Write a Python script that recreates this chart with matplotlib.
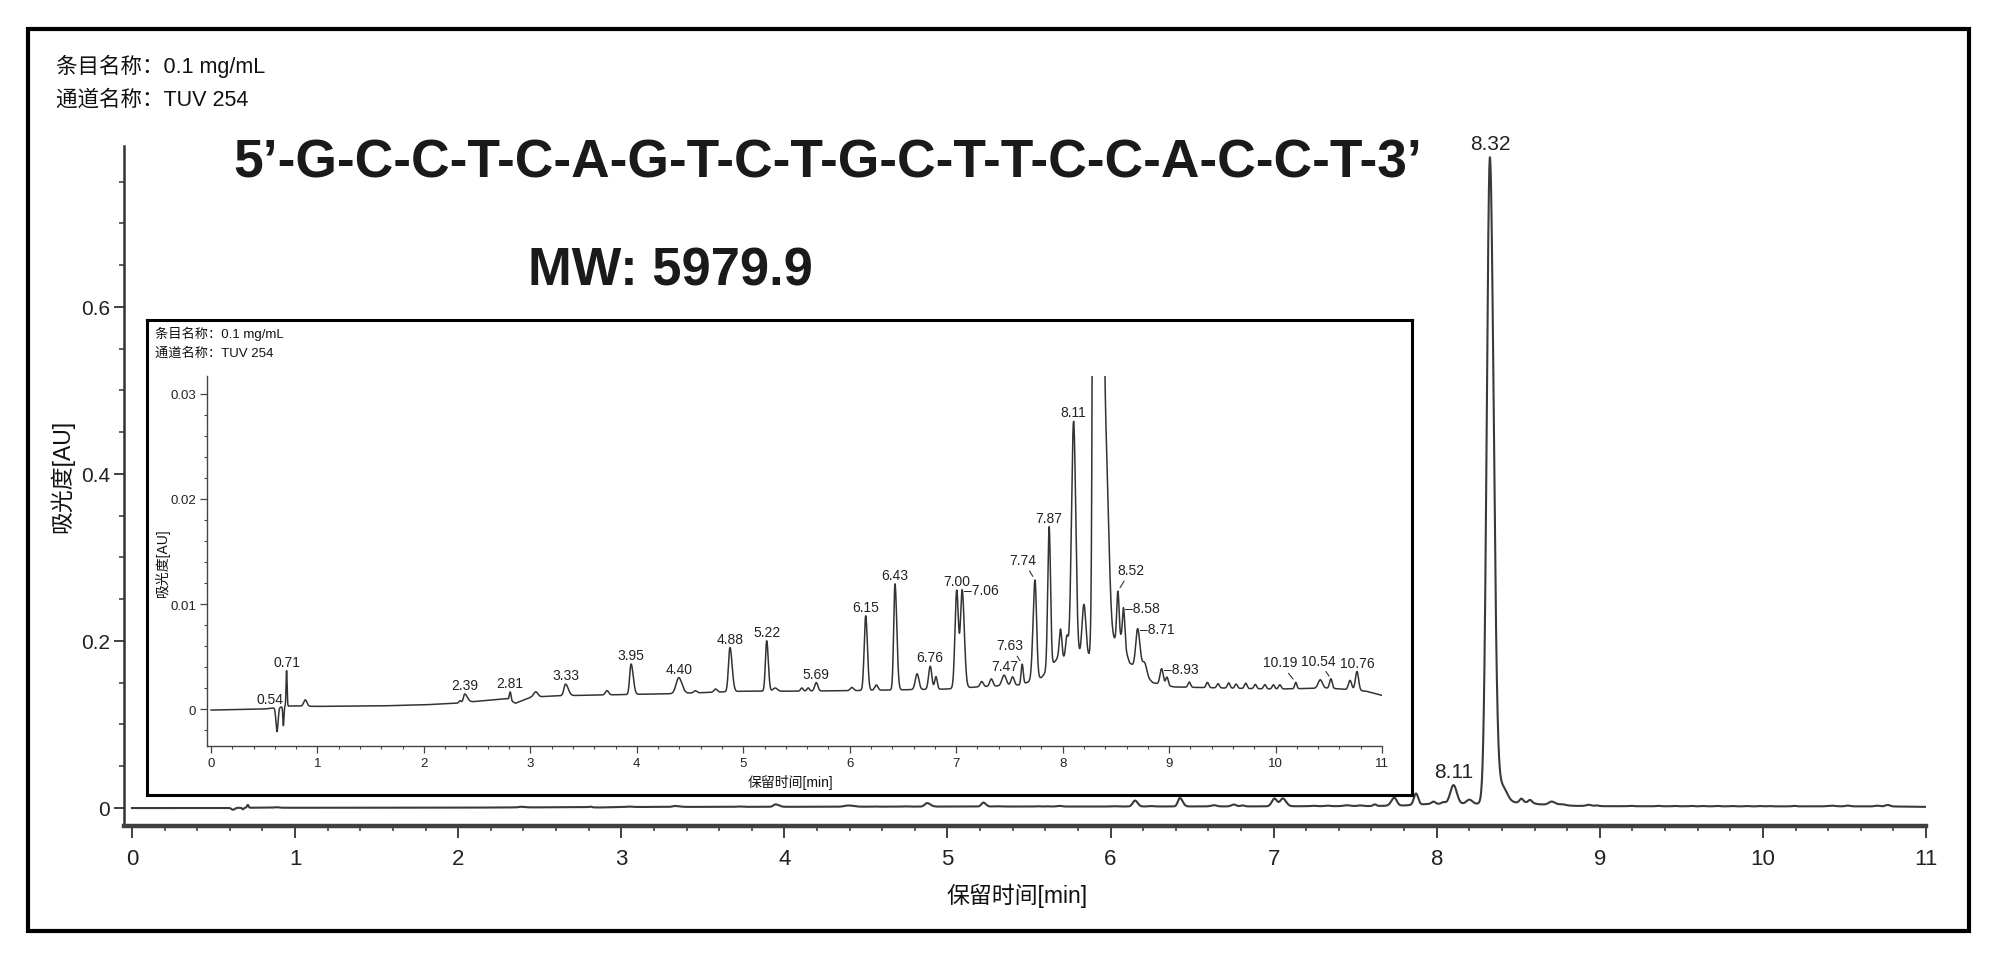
import numpy as np
import matplotlib
matplotlib.use("Agg")
import matplotlib.pyplot as plt
from matplotlib.patches import Rectangle
from matplotlib.ticker import MultipleLocator

plt.rcParams['font.family'] = ['Liberation Sans', 'Noto Sans CJK SC', 'DejaVu Sans']

# peak table
# retention time [min], height above baseline [AU], width left / right [min]
peak_rt = [0.62, 0.68, 0.71, 0.886, 2.34, 2.383, 2.811, 3.05, 3.33, 3.72,
           3.946, 4.394, 4.55, 4.74, 4.875, 5.22, 5.30, 5.55, 5.61, 5.686,
           6.02, 6.15, 6.25, 6.425, 6.633, 6.756, 6.81, 7.005, 7.056, 7.24,
           7.33, 7.45, 7.53, 7.62, 7.74, 7.873, 7.98, 8.04, 8.103, 8.20,
           8.326, 8.40, 8.519, 8.572, 8.705, 8.77, 8.93, 8.98, 9.19, 9.36,
           9.46, 9.56, 9.63, 9.72, 9.81, 9.90, 9.98, 10.04, 10.19, 10.42,
           10.52, 10.70, 10.765]
peak_h = [-0.0023, -0.0018, 0.0034, 0.0006, 0.0002, 0.0008, 0.0008, 0.0005, 0.0011, 0.0004,
          0.0029, 0.0015, 0.0002, 0.0003, 0.0042, 0.0048, 0.0003, 0.0003, 0.0003, 0.0008,
          0.0003, 0.0071, 0.0005, 0.0101, 0.0015, 0.0022, 0.0012, 0.0093, 0.0093, 0.0005,
          0.0007, 0.0010, 0.0008, 0.0019, 0.0095, 0.0135, 0.0028, 0.0020, 0.0225, 0.0050,
          0.773, 0.020, 0.0046, 0.0035, 0.0039, 0.0012, 0.0015, 0.0008, 0.0005, 0.0005,
          0.0004, 0.0005, 0.0004, 0.0005, 0.0004, 0.0004, 0.0004, 0.0004, 0.0006, 0.0008,
          0.0009, 0.0009, 0.0018]
peak_wl = [0.010, 0.005, 0.005, 0.015, 0.010, 0.012, 0.008, 0.020, 0.015, 0.015,
           0.013, 0.025, 0.015, 0.015, 0.014, 0.012, 0.020, 0.012, 0.012, 0.015,
           0.015, 0.014, 0.015, 0.012, 0.017, 0.015, 0.012, 0.016, 0.016, 0.015,
           0.015, 0.020, 0.015, 0.010, 0.018, 0.013, 0.012, 0.012, 0.020, 0.018,
           0.019, 0.030, 0.011, 0.010, 0.018, 0.020, 0.015, 0.012, 0.012, 0.012,
           0.012, 0.012, 0.012, 0.012, 0.012, 0.012, 0.012, 0.012, 0.010, 0.020,
           0.012, 0.015, 0.015]
peak_wr = [0.010, 0.005, 0.005, 0.015, 0.010, 0.025, 0.008, 0.020, 0.025, 0.015,
           0.020, 0.030, 0.015, 0.015, 0.020, 0.015, 0.020, 0.012, 0.012, 0.015,
           0.015, 0.016, 0.015, 0.017, 0.017, 0.015, 0.012, 0.016, 0.020, 0.015,
           0.015, 0.020, 0.015, 0.010, 0.015, 0.013, 0.012, 0.012, 0.020, 0.018,
           0.023, 0.030, 0.011, 0.012, 0.022, 0.020, 0.015, 0.012, 0.012, 0.012,
           0.012, 0.012, 0.012, 0.012, 0.012, 0.012, 0.012, 0.012, 0.010, 0.020,
           0.012, 0.015, 0.015]

# baseline drift under the peaks
base_t = [0.0, 0.5, 0.75, 1.0, 1.6, 2.0, 2.3, 2.78, 2.86, 3.0, 3.2, 4.0, 4.3, 5.0,
          5.5, 6.0, 6.9, 7.2, 7.6, 7.8, 7.95, 8.25, 8.45, 8.55, 8.63, 8.85, 9.05,
          10.0, 10.5, 10.85, 11.0]
base_v = [-0.0001, 0.0, 0.0003, 0.00025, 0.0003, 0.0004, 0.00055, 0.0010, 0.00055,
          0.0011, 0.00125, 0.0014, 0.00145, 0.0017, 0.0017, 0.00175, 0.0019, 0.0021,
          0.0023, 0.0030, 0.0048, 0.0050, 0.0062, 0.0068, 0.0044, 0.0025, 0.0021,
          0.0019, 0.0020, 0.0017, 0.0013]

main_ticks = [0, 0.2, 0.4, 0.6]
main_ticklabels = ["0", "0.2", "0.4", "0.6"]
inset_ticks = [0, 0.01, 0.02, 0.03]
inset_ticklabels = ["0", "0.01", "0.02", "0.03"]
x_ticks = list(range(12))

main_labels = ["8.11", "8.32"]
inset_labels = ["0.54", "0.71", "2.39", "2.81", "3.33", "3.95", "4.40", "4.88",
                "5.22", "5.69", "6.15", "6.43", "6.76", "7.00", "7.06", "7.47",
                "7.63", "7.74", "7.87", "8.11", "8.52", "8.58", "8.71", "8.93",
                "10.19", "10.54", "10.76"]
# labels drawn with a dash to the right of the peak
dash_labels = ["7.06", "8.58", "8.71", "8.93"]
# labels set off the peak with a short leader line (offset in pixels)
leader_labels = {"7.63": (-12, 19), "7.74": (-12, 20), "8.52": (13, 21),
                 "10.19": (-16, 20), "10.54": (-13, 19)}

header1 = "条目名称：0.1 mg/mL"
header2 = "通道名称：TUV 254"
sequence = "5’-G-C-C-T-C-A-G-T-C-T-G-C-T-T-C-C-A-C-C-T-3’"
mw_text = "MW: 5979.9"

# build the trace from the peak table
t = np.linspace(0, 11, 8801)
signal = np.interp(t, base_t, base_v)
for rt, h, wl, wr in zip(peak_rt, peak_h, peak_wl, peak_wr):
    w = np.where(t < rt, wl, wr)
    signal = signal + h * np.exp(-0.5 * ((t - rt) / w) ** 2)


def apex(x, half=0.015):
    # top of the trace close to a labelled retention time
    m = (t >= x - half) & (t <= x + half)
    i = np.argmax(signal[m])
    return t[m][i], signal[m][i]


fig = plt.figure(figsize=(20, 9.62), dpi=100)
W, H = 2000, 962


def fbox(x0, y0, x1, y1):
    # pixel box (top-left origin) -> figure fraction rect
    return [x0 / W, 1 - y1 / H, (x1 - x0) / W, (y1 - y0) / H]


# outer frame
fig.patches.append(Rectangle((28 / W, 1 - 932 / H), (1969 - 28) / W, (932 - 30) / H,
                             transform=fig.transFigure, fill=False, lw=3, ec='black'))

fig.text(56 / W, 1 - 73 / H, header1, fontsize=15.5, color='#111')
fig.text(56 / W, 1 - 106 / H, header2, fontsize=15.5, color='#111')
fig.text(233 / W, 1 - 177 / H, sequence, fontsize=38.4, fontweight='bold', color='#1a1a1a')
fig.text(528 / W, 1 - 286 / H, mw_text, fontsize=37.8, fontweight='bold', color='#1a1a1a')

# main chromatogram
ax = fig.add_axes(fbox(124, 147, 1926, 827), zorder=1)
ax.plot(t, signal, color='#3a3a3a', lw=1.5)
ax.set_xlim(-0.049, 11.0)
ax.set_ylim(-0.0216, 0.7928)
for s in ['top', 'right']:
    ax.spines[s].set_visible(False)
ax.spines['left'].set_color('#333')
ax.spines['left'].set_linewidth(1.8)
ax.spines['bottom'].set_color('#404040')
ax.spines['bottom'].set_linewidth(3.2)
ax.set_xticks(x_ticks)
ax.set_xticklabels([str(v) for v in x_ticks])
ax.xaxis.set_minor_locator(MultipleLocator(0.2))
ax.set_yticks(main_ticks)
ax.set_yticklabels(main_ticklabels)
ax.yaxis.set_minor_locator(MultipleLocator(0.05))
ax.tick_params(axis='x', which='major', length=8.5, width=1.3, color='#333',
               labelsize=16, labelcolor='#222', pad=7.5)
ax.tick_params(axis='x', which='minor', length=3.8, width=1.1, color='#333')
ax.tick_params(axis='y', which='major', length=7, width=1.3, color='#333',
               labelsize=15, labelcolor='#222', pad=3)
ax.tick_params(axis='y', which='minor', length=3.5, width=1.1, color='#333')
ax.set_xlabel("保留时间[min]", fontsize=16.5, color='#111')
ax.xaxis.set_label_coords((1017 - 124) / 1802, (827 - 884) / 680)
ax.set_ylabel("吸光度[AU]", fontsize=16.5, color='#111')
ax.yaxis.set_label_coords((74 - 124) / 1802, (827 - 476) / 680)

for lbl in main_labels:
    px, py = apex(float(lbl), 0.02)
    ax.annotate(lbl, xy=(px, py), xytext=(0, 4), textcoords='offset pixels',
                ha='center', va='bottom', fontsize=15, color='#222',
                annotation_clip=False)

# inset frame
box = fig.add_axes(fbox(147, 321, 1412, 796), zorder=2)
box.set_facecolor('white')
box.set_xticks([])
box.set_yticks([])
for s in box.spines.values():
    s.set_linewidth(2.2)
    s.set_color('black')
box.text(8 / 1265, 1 - 17 / 475, header1, transform=box.transAxes, fontsize=9.5,
         va='baseline', color='#111')
box.text(8 / 1265, 1 - 36 / 475, header2, transform=box.transAxes, fontsize=9.5,
         va='baseline', color='#111')

# inset chromatogram (zoomed y)
ins = fig.add_axes(fbox(207, 377, 1382, 747), zorder=3)
ins.patch.set_alpha(0)
ins.plot(t, signal, color='#333', lw=1.1)
ins.set_xlim(-0.0376, 11.0)
ins.set_ylim(-0.00352, 0.03171)
for s in ['top', 'right']:
    ins.spines[s].set_visible(False)
for s in ['left', 'bottom']:
    ins.spines[s].set_color('#444')
    ins.spines[s].set_linewidth(1.0)
ins.set_xticks(x_ticks)
ins.set_xticklabels([str(v) for v in x_ticks])
ins.xaxis.set_minor_locator(MultipleLocator(0.2))
ins.set_yticks(inset_ticks)
ins.set_yticklabels(inset_ticklabels)
ins.yaxis.set_minor_locator(MultipleLocator(0.002))
ins.tick_params(which='major', length=5, width=0.9, color='#444',
                labelsize=9.5, labelcolor='#222', pad=3)
ins.tick_params(which='minor', length=2.5, width=0.8, color='#444')
ins.set_xlabel("保留时间[min]", fontsize=10, color='#111')
ins.xaxis.set_label_coords((791 - 207) / 1175, (747 - 775) / 370)
ins.set_ylabel("吸光度[AU]", fontsize=10, color='#111')
ins.yaxis.set_label_coords((170 - 207) / 1175, (747 - 563) / 370)

for lbl in inset_labels:
    px, py = apex(float(lbl))
    if lbl in dash_labels:
        ins.annotate("–" + lbl, xy=(px, py), xytext=(2, 0), textcoords='offset pixels',
                     ha='left', va='center', fontsize=10, color='#222')
    elif lbl in leader_labels:
        ins.annotate(lbl, xy=(px, py), xytext=leader_labels[lbl], textcoords='offset pixels',
                     ha='center', va='center', fontsize=10, color='#222',
                     arrowprops=dict(arrowstyle='-', lw=0.8, color='#333',
                                     shrinkA=1, shrinkB=3))
    else:
        ins.annotate(lbl, xy=(px, py), xytext=(0, 2), textcoords='offset pixels',
                     ha='center', va='bottom', fontsize=10, color='#222')

fig.savefig("out.png", dpi=100)
